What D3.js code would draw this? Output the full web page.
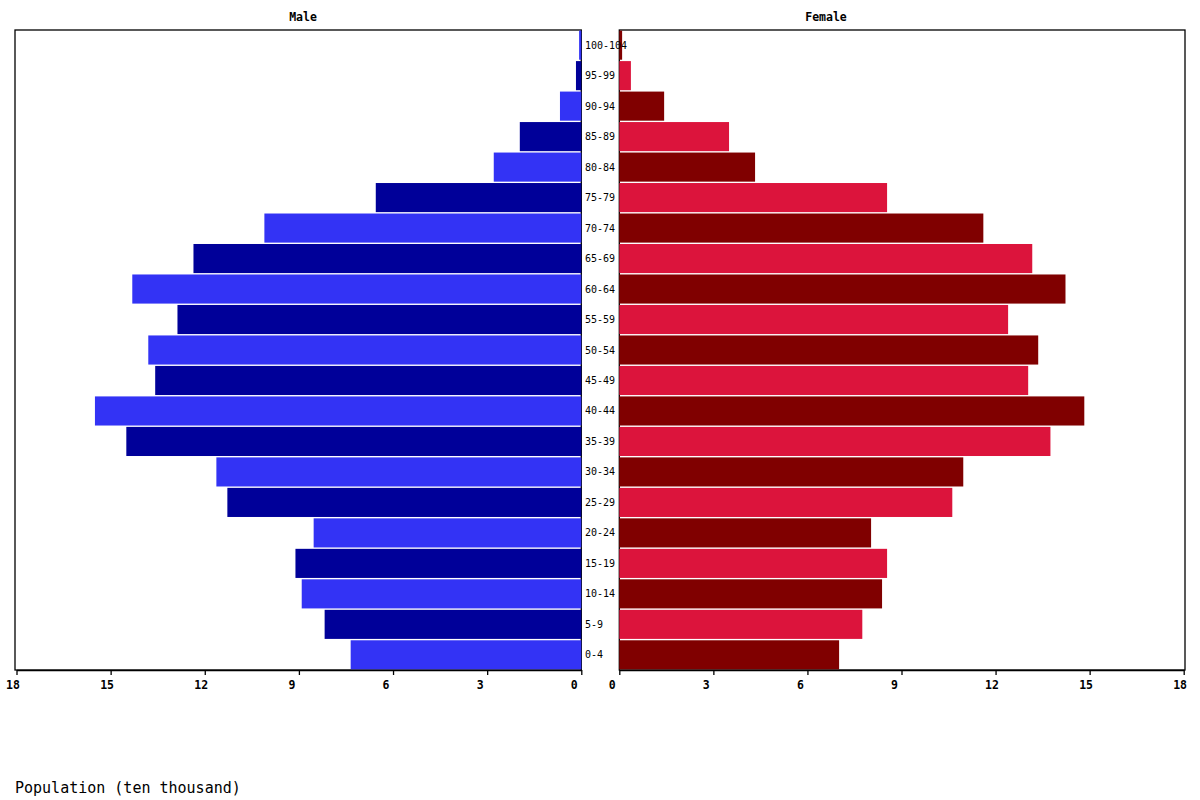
<!DOCTYPE html>
<html>
<head>
<meta charset="utf-8">
<script src="https://cdn.jsdelivr.net/npm/d3@7"></script>
<style>
  body { margin: 0; background: #fff; }
  svg { display: block; }
  text { font-family: "DejaVu Sans Mono", "Liberation Mono", monospace; }
</style>
</head>
<body>
<svg width="1200" height="800"></svg>
<script>
// age groups, bottom to top
var ages = ["0-4", "5-9", "10-14", "15-19", "20-24", "25-29", "30-34", "35-39", "40-44",
  "45-49", "50-54", "55-59", "60-64", "65-69", "70-74", "75-79", "80-84", "85-89",
  "90-94", "95-99", "100-104"];

// population, ten thousand
var male = [7.35, 8.18, 8.91, 9.11, 8.53, 11.28, 11.63, 14.50, 15.50, 13.58, 13.80,
  12.87, 14.31, 12.36, 10.10, 6.55, 2.79, 1.96, 0.68, 0.17, 0.07];
var female = [7.01, 7.75, 8.38, 8.54, 8.03, 10.62, 10.97, 13.75, 14.83, 13.04, 13.36,
  12.40, 14.23, 13.17, 11.61, 8.54, 4.33, 3.50, 1.43, 0.37, 0.09];

var ticks = [0, 3, 6, 9, 12, 15, 18];

var maleColors = ["#3333f5", "#000099"];
var femaleColors = ["#800000", "#dc143c"];

var svg = d3.select("svg");

var plotTop = 30, plotBottom = 670;

var y = d3.scaleBand()
    .domain(ages.slice().reverse())
    .range([plotTop, plotBottom])
    .paddingInner(0.045)
    .paddingOuter(0.02);

var xm = d3.scaleLinear().domain([0, 18]).range([581.3, 16.5]);
var xf = d3.scaleLinear().domain([0, 18]).range([619.3, 1183.7]);

// frames
svg.append("rect")
    .attr("x", 15).attr("y", plotTop)
    .attr("width", 581.3 - 15).attr("height", plotBottom - plotTop)
    .attr("fill", "none").attr("stroke", "#000").attr("stroke-width", 1.3);
svg.append("rect")
    .attr("x", 619.3).attr("y", plotTop)
    .attr("width", 1185 - 619.3).attr("height", plotBottom - plotTop)
    .attr("fill", "none").attr("stroke", "#000").attr("stroke-width", 1.3);

// male bars
svg.append("g").selectAll("rect")
    .data(male)
    .enter()
    .append("rect")
    .attr("x", function(d) { return xm(d); })
    .attr("y", function(d, i) { return y(ages[i]); })
    .attr("width", function(d) { return xm(0) - xm(d); })
    .attr("height", y.bandwidth())
    .attr("fill", function(d, i) { return maleColors[i % 2]; });

// female bars
svg.append("g").selectAll("rect")
    .data(female)
    .enter()
    .append("rect")
    .attr("x", xf(0))
    .attr("y", function(d, i) { return y(ages[i]); })
    .attr("width", function(d) { return xf(d) - xf(0); })
    .attr("height", y.bandwidth())
    .attr("fill", function(d, i) { return femaleColors[i % 2]; });

// age labels
svg.append("g").selectAll("text")
    .data(ages)
    .enter()
    .append("text")
    .attr("x", 585)
    .attr("y", function(d) { return y(d) + y.bandwidth() / 2; })
    .attr("dy", "0.35em")
    .attr("font-size", 10)
    .text(function(d) { return d; });

// axes
function styleAxis(g) {
    g.select(".domain").attr("stroke-width", 1.5);
    g.selectAll(".tick line").attr("stroke-width", 1.3);
    g.selectAll(".tick text")
        .attr("text-anchor", "start")
        .attr("x", -11)
        .attr("font-size", 11.5)
        .attr("font-weight", "bold")
        .attr("font-family", "DejaVu Sans Mono, monospace");
}

svg.append("g")
    .attr("transform", "translate(0," + plotBottom + ")")
    .call(d3.axisBottom(xm).tickValues(ticks).tickSize(5).tickSizeOuter(0).tickPadding(6))
    .call(styleAxis);

svg.append("g")
    .attr("transform", "translate(0," + plotBottom + ")")
    .call(d3.axisBottom(xf).tickValues(ticks).tickSize(5).tickSizeOuter(0).tickPadding(6))
    .call(styleAxis);

// titles
svg.append("text")
    .attr("x", 303).attr("y", 21)
    .attr("text-anchor", "middle")
    .attr("font-size", 11.5).attr("font-weight", "bold")
    .text("Male");
svg.append("text")
    .attr("x", 826).attr("y", 21)
    .attr("text-anchor", "middle")
    .attr("font-size", 11.5).attr("font-weight", "bold")
    .text("Female");

svg.append("text")
    .attr("x", 15).attr("y", 793)
    .attr("font-size", 15)
    .text("Population (ten thousand)");
</script>
</body>
</html>
